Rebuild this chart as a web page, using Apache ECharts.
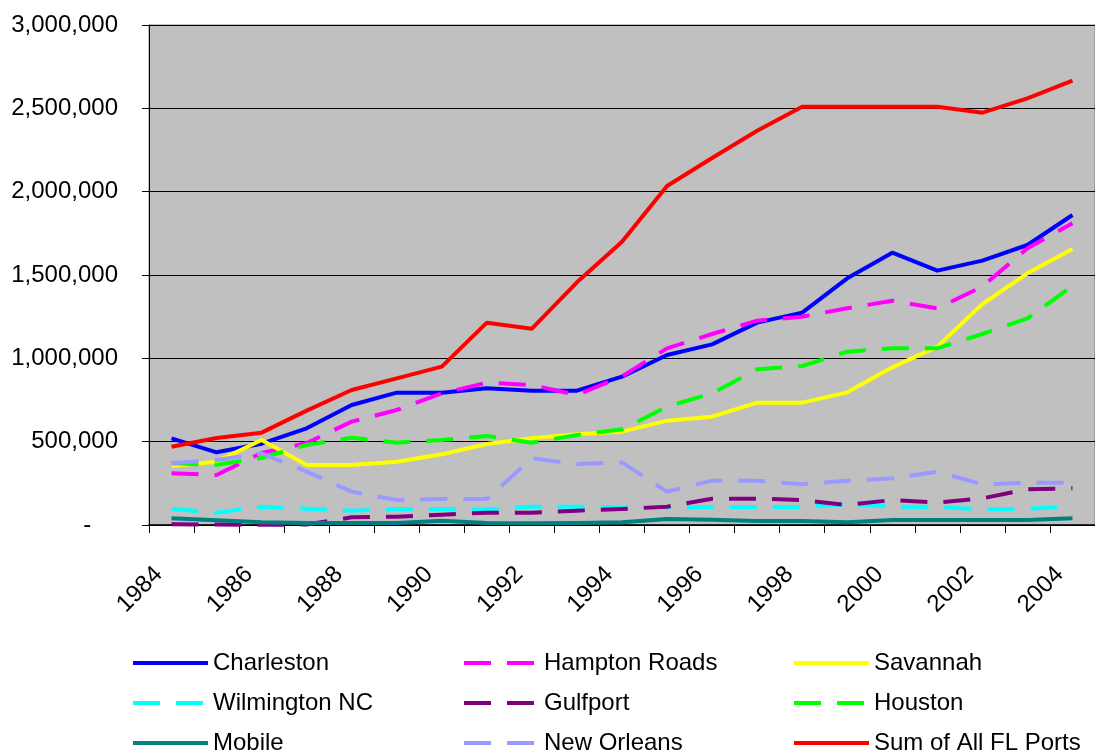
<!DOCTYPE html>
<html>
<head>
<meta charset="utf-8">
<script src="https://cdn.jsdelivr.net/npm/echarts@6/dist/echarts.min.js"></script>
<style>
html,body{margin:0;padding:0;background:#fff;}
#chart{width:1095px;height:753px;}
</style>
</head>
<body>
<div id="chart"></div>
<script>
const years = ['1984','1985','1986','1987','1988','1989','1990','1991','1992','1993','1994','1995','1996','1997','1998','1999','2000','2001','2002','2003','2004'];
const yTicks = [0, 500000, 1000000, 1500000, 2000000, 2500000, 3000000];

const charleston = [520000, 436000, 488000, 580000, 720000, 794000, 794000, 820000, 806000, 806000, 890000, 1020000, 1084000, 1214000, 1274000, 1480000, 1634000, 1526000, 1586000, 1680000, 1860000];
const hamptonRoads = [310000, 300000, 432000, 492000, 620000, 690000, 790000, 854000, 840000, 780000, 892000, 1060000, 1146000, 1226000, 1250000, 1300000, 1346000, 1300000, 1430000, 1660000, 1810000];
const savannah = [354000, 380000, 510000, 360000, 360000, 380000, 424000, 486000, 520000, 544000, 560000, 626000, 650000, 734000, 734000, 796000, 946000, 1070000, 1326000, 1510000, 1656000];
const wilmington = [96000, 74000, 110000, 98000, 86000, 96000, 96000, 94000, 110000, 110000, 104000, 106000, 108000, 108000, 108000, 125000, 110000, 108000, 94000, 96000, 114000];
const gulfport = [4000, 3000, 1000, 3000, 46000, 50000, 62000, 74000, 74000, 86000, 96000, 110000, 158000, 158000, 150000, 120000, 150000, 134000, 160000, 214000, 220000];
const houston = [370000, 362000, 402000, 480000, 524000, 494000, 510000, 534000, 494000, 540000, 574000, 710000, 790000, 934000, 954000, 1040000, 1060000, 1060000, 1146000, 1240000, 1434000];
const mobile = [40000, 28000, 16000, 12000, 12000, 12000, 26000, 12000, 10000, 12000, 16000, 36000, 32000, 24000, 24000, 16000, 30000, 30000, 30000, 30000, 40000];
const newOrleans = [370000, 390000, 430000, 320000, 200000, 150000, 156000, 156000, 400000, 366000, 376000, 200000, 266000, 266000, 244000, 266000, 280000, 320000, 244000, 254000, 254000];
const sumFL = [470000, 522000, 554000, 686000, 810000, 880000, 950000, 1214000, 1178000, 1456000, 1700000, 2034000, 2202000, 2366000, 2510000, 2510000, 2510000, 2510000, 2474000, 2560000, 2666000];

const DASH = [27, 16];
const LW = 4;
const FONT = 'Liberation Sans, Arial, sans-serif';

const defs = [
  ['Charleston', charleston, '#0000FF', false],
  ['Hampton Roads', hamptonRoads, '#FF00FF', true],
  ['Savannah', savannah, '#FFFF00', false],
  ['Wilmington NC', wilmington, '#00FFFF', true],
  ['Gulfport', gulfport, '#800080', true],
  ['Houston', houston, '#00FF00', true],
  ['Mobile', mobile, '#008080', false],
  ['New Orleans', newOrleans, '#9999FF', true],
  ['Sum of All FL Ports', sumFL, '#FF0000', false]
];

function mk(d) {
  return {
    name: d[0], type: 'line', data: d[1], symbol: 'none', showSymbol: false,
    lineStyle: { color: d[2], width: LW, type: d[3] ? DASH : 'solid', cap: 'butt', join: 'round' },
    itemStyle: { color: d[2] },
    emphasis: { disabled: true },
    animation: false
  };
}

function legendCol(left, names) {
  return {
    orient: 'vertical', left: left, top: 651, height: 120, padding: 0,
    itemWidth: 75, itemHeight: 14, itemGap: 16,
    data: names.map(function (n) {
      const d = defs.find(function (x) { return x[0] === n; });
      return { name: n, lineStyle: { color: d[2], width: LW, type: d[3] ? DASH : 'solid', cap: 'butt' } };
    }),
    itemStyle: { color: 'rgba(0,0,0,0)', borderWidth: 0, opacity: 0 },
    textStyle: { fontFamily: FONT, fontSize: 24, color: '#000', lineHeight: 24 },
    selectedMode: false
  };
}

const chart = echarts.init(document.getElementById('chart'), null, { renderer: 'canvas' });
chart.setOption({
  animation: false,
  backgroundColor: '#ffffff',
  grid: { left: 149, top: 25, width: 958, height: 500, show: true, backgroundColor: '#C0C0C0', borderColor: '#808080', borderWidth: 1 },
  xAxis: {
    type: 'category', data: years, boundaryGap: true,
    axisLine: { show: true, lineStyle: { color: '#000', width: 1.5 } },
    axisTick: { show: true, interval: 0, length: 8, inside: false, lineStyle: { color: '#000', width: 1 } },
    axisLabel: { interval: 1, rotate: 45, margin: 33, padding: [0, 18, 0, 0], fontFamily: FONT, fontSize: 24, color: '#000' },
    splitLine: { show: false }
  },
  yAxis: {
    type: 'value', min: yTicks[0], max: yTicks[yTicks.length - 1], interval: yTicks[1] - yTicks[0],
    axisLine: { show: true, lineStyle: { color: '#000', width: 1 } },
    axisTick: { show: true, length: 7, inside: false, lineStyle: { color: '#000' } },
    axisLabel: {
      margin: 31, fontFamily: FONT, fontSize: 24, color: '#000',
      formatter: function (v) { return v === 0 ? '-    ' : v.toLocaleString('en-US'); }
    },
    splitLine: { show: true, lineStyle: { color: '#000', width: 1 } }
  },
  legend: [
    legendCol(131, ['Charleston', 'Wilmington NC', 'Mobile']),
    legendCol(462, ['Hampton Roads', 'Gulfport', 'New Orleans']),
    legendCol(792, ['Savannah', 'Houston', 'Sum of All FL Ports'])
  ],
  series: defs.map(mk)
});
</script>
</body>
</html>
